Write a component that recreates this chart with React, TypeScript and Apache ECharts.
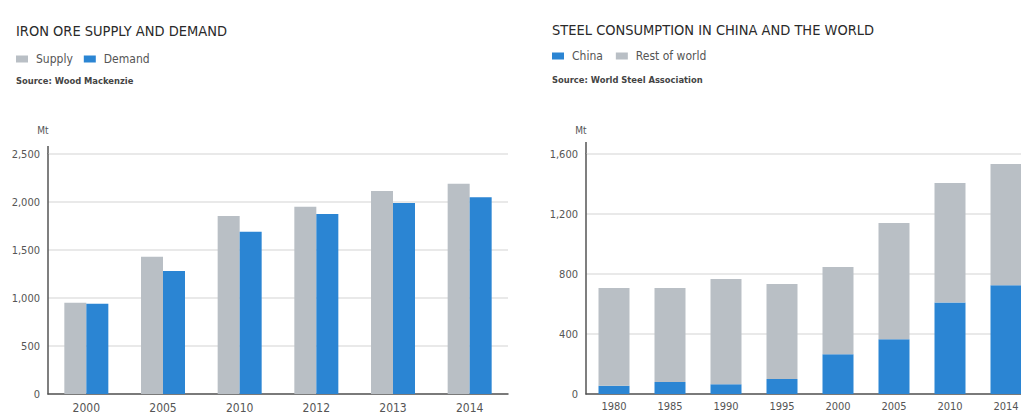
import React, { useEffect, useRef } from "react";
import * as echarts from "echarts";

const ironYears = ["2000", "2005", "2010", "2012", "2013", "2014"];
const ironSupply = [950, 1430, 1855, 1950, 2115, 2190];
const ironDemand = [940, 1280, 1690, 1875, 1990, 2050];
const ironTicks = [0, 500, 1000, 1500, 2000, 2500];

const steelYears = ["1980", "1985", "1990", "1995", "2000", "2005", "2010", "2014"];
const steelChina = [55, 80, 65, 100, 265, 365, 610, 725];
const steelTotal = [707, 707, 767, 733, 847, 1140, 1407, 1533];
const steelRest = steelTotal.map((t, i) => t - steelChina[i]);
const steelTicks = [0, 400, 800, 1200, 1600];

const GRAY = "#b9bfc5";
const BLUE = "#2b85d3";
const FONT = "'Liberation Sans Narrow', 'DejaVu Sans Condensed', sans-serif";

export default function App() {
  const ref = useRef<HTMLDivElement>(null);
  useEffect(() => {
    if (!ref.current) return;
    const chart = echarts.init(ref.current, undefined, { renderer: "svg" });
    const fmt = (v: number) => v.toLocaleString("en-US");
    const yAxisBase = (max: number, interval: number) => ({
      type: "value" as const,
      min: 0,
      max,
      interval,
      name: "Mt",
      nameLocation: "end" as const,
      nameGap: 19,
      nameTextStyle: { fontFamily: FONT, fontSize: 10, color: "#555", padding: [0, 10, 0, 0] },
      axisLine: { show: true, lineStyle: { color: "#555", width: 1.5 } },
      axisTick: { show: false },
      axisLabel: { fontFamily: FONT, fontSize: 11, color: "#555", margin: 8, formatter: (v: number) => fmt(v) },
      splitLine: { lineStyle: { color: "#e2e2e2", width: 1.5 } },
    });
    const xAxisBase = (data: string[], gridIndex: number, fontSize: number, margin: number) => ({
      type: "category" as const,
      gridIndex,
      data,
      axisLine: { lineStyle: { color: "#555", width: 1.5 } },
      axisTick: { show: false },
      axisLabel: { fontFamily: FONT, fontSize, color: "#555", margin },
    });
    const titleStyle = { fontFamily: FONT, fontSize: 14.5, fontWeight: 500, color: "#2a2a2a" };
    const srcStyle = { fontFamily: FONT, fontSize: 9.3, fontWeight: "bold", color: "#444" };
    const legText = { fontFamily: FONT, fontSize: 12, color: "#555", padding: [0, 0, 0, 3] };
    chart.setOption({
      animation: false,
      backgroundColor: "#fff",
      title: [
        { text: "IRON ORE SUPPLY AND DEMAND", left: 16, top: 23, padding: 0, textStyle: titleStyle },
        { text: "Source: Wood Mackenzie", left: 16, top: 76, padding: 0, textStyle: srcStyle },
        { text: "STEEL CONSUMPTION IN CHINA AND THE WORLD", left: 552, top: 22, padding: 0, textStyle: titleStyle },
        { text: "Source: World Steel Association", left: 552, top: 75, padding: 0, textStyle: srcStyle },
      ],
      legend: [
        {
          data: ["Supply", "Demand"], left: 16, top: 53, padding: 0, itemWidth: 12, itemHeight: 7, itemGap: 11,
          icon: "rect", textStyle: legText,
        },
        {
          data: ["China", "Rest of world"], left: 552, top: 50, padding: 0, itemWidth: 12, itemHeight: 7, itemGap: 13,
          icon: "rect", textStyle: legText,
        },
      ],
      grid: [
        { left: 48, top: 154, width: 460, height: 240 },
        { left: 586, top: 154, width: 448, height: 240 },
      ],
      xAxis: [xAxisBase(ironYears, 0, 12, 8), xAxisBase(steelYears, 1, 11, 7)],
      yAxis: [
        { ...yAxisBase(ironTicks[ironTicks.length - 1], 500), gridIndex: 0 },
        { ...yAxisBase(steelTicks[steelTicks.length - 1], 400), gridIndex: 1 },
      ],
      graphic: [
        { type: "line", shape: { x1: 48, y1: 146, x2: 48, y2: 154 }, style: { stroke: "#555", lineWidth: 1.5 } },
        { type: "line", shape: { x1: 586, y1: 142, x2: 586, y2: 154 }, style: { stroke: "#555", lineWidth: 1.5 } },
      ],
      series: [
        { name: "Supply", type: "bar", xAxisIndex: 0, yAxisIndex: 0, data: ironSupply, barWidth: 22, barGap: "0%", itemStyle: { color: GRAY } },
        { name: "Demand", type: "bar", xAxisIndex: 0, yAxisIndex: 0, data: ironDemand, barWidth: 22, barGap: "0%", itemStyle: { color: BLUE } },
        { name: "China", type: "bar", xAxisIndex: 1, yAxisIndex: 1, stack: "s", data: steelChina, barWidth: 31, itemStyle: { color: BLUE } },
        { name: "Rest of world", type: "bar", xAxisIndex: 1, yAxisIndex: 1, stack: "s", data: steelRest, barWidth: 31, itemStyle: { color: GRAY } },
      ],
    });
    return () => chart.dispose();
  }, []);
  return (
    <div style={{ position: "fixed", left: 0, top: 0, width: 1021, height: 416, overflow: "hidden", background: "#fff" }}>
      <div ref={ref} style={{ width: 1040, height: 416 }} />
    </div>
  );
}
